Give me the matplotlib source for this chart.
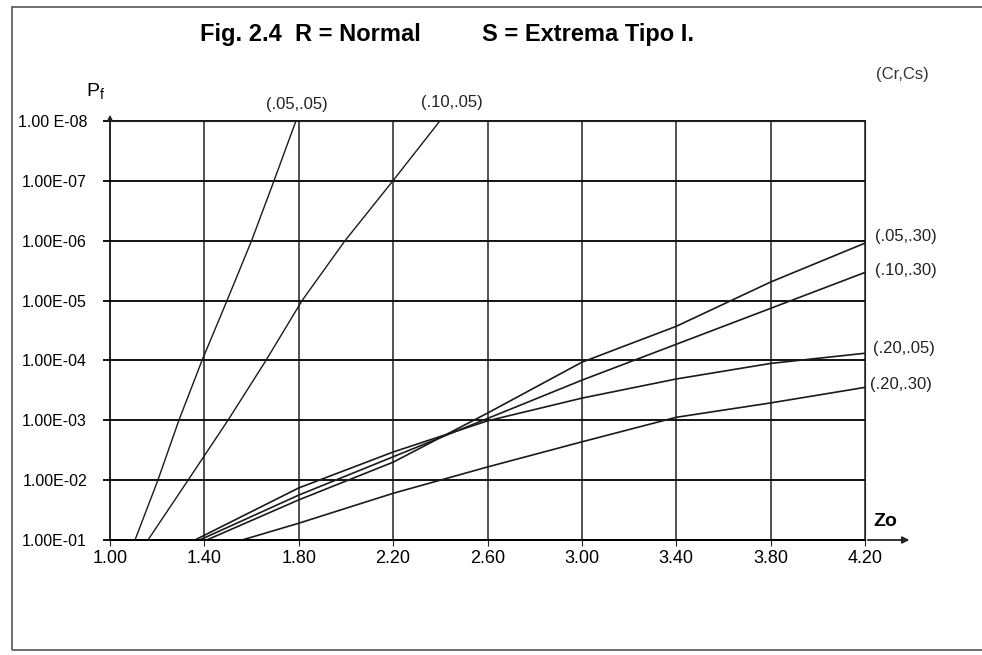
import matplotlib
matplotlib.use('Agg')
import matplotlib.pyplot as plt
from matplotlib.patches import Rectangle

plt.rcParams['font.family'] = ['Liberation Sans', 'DejaVu Sans']

# eje y: decadas de Pf (1 -> 1.00E-01 ... 8 -> 1.00E-08)
y_ticks = [1, 2, 3, 4, 5, 6, 7, 8]
y_labels = ['1.00E-01', '1.00E-02', '1.00E-03', '1.00E-04',
            '1.00E-05', '1.00E-06', '1.00E-07', '1.00 E-08']
x_ticks = [1.00, 1.40, 1.80, 2.20, 2.60, 3.00, 3.40, 3.80, 4.20]

# curvas empinadas (x para cada decada)
d_steep = [1, 2, 3, 4, 5, 6, 7, 8]
zo_05_05 = [1.106, 1.203, 1.292, 1.390, 1.496, 1.600, 1.695, 1.788]
zo_10_05 = [1.161, 1.331, 1.500, 1.661, 1.814, 1.996, 2.199, 2.398]

# curvas bajas (decadas en cada Zo)
zo_05_30 = [1.41, 1.80, 2.20, 2.60, 3.00, 3.40, 3.80, 4.20]
d_05_30 = [1.0, 1.67, 2.30, 3.12, 3.97, 4.57, 5.31, 5.96]
zo_10_30 = [1.38, 1.80, 2.20, 2.60, 3.00, 3.40, 3.80, 4.20]
d_10_30 = [1.0, 1.75, 2.39, 3.03, 3.67, 4.27, 4.87, 5.47]
zo_20_05 = [1.36, 1.80, 2.20, 2.60, 3.00, 3.40, 3.80, 4.20]
d_20_05 = [1.0, 1.87, 2.47, 2.99, 3.37, 3.69, 3.95, 4.12]
zo_20_30 = [1.56, 1.80, 2.20, 2.60, 3.00, 3.40, 3.80, 4.20]
d_20_30 = [1.0, 1.28, 1.78, 2.22, 2.64, 3.05, 3.29, 3.55]

fig = plt.figure(figsize=(9.82, 6.55), dpi=100)
fig.patches.append(Rectangle((12/982, 1-650/655), 975/982, 643/655, transform=fig.transFigure,
                             fill=False, edgecolor='#555555', lw=1.2))

ax = fig.add_axes([110/982, 1-540/655, 755/982, 419/655])
ax.set_xlim(1.0, 4.2)
ax.set_ylim(1, 8)

for v in x_ticks[1:]:
    ax.axvline(v, color='#222222', lw=1.1)
for v in y_ticks:
    ax.plot([0.975, 4.2], [v, v], color='#111111', lw=1.4, clip_on=False)

lc = '#1a1a1a'
ax.plot(zo_05_05, d_steep, color=lc, lw=1.0)
ax.plot(zo_10_05, d_steep, color=lc, lw=1.0)
ax.plot(zo_05_30, d_05_30, color=lc, lw=1.2)
ax.plot(zo_10_30, d_10_30, color=lc, lw=1.2)
ax.plot(zo_20_05, d_20_05, color=lc, lw=1.2)
ax.plot(zo_20_30, d_20_30, color=lc, lw=1.2)

for s in ['top', 'right']:
    ax.spines[s].set_color('#222222')
ax.spines['left'].set_linewidth(1.2)
ax.spines['bottom'].set_linewidth(1.4)

ax.set_xticks(x_ticks)
ax.set_xticklabels(['%.2f' % v for v in x_ticks], fontsize=13)
ax.set_yticks(y_ticks)
ax.set_yticklabels(y_labels, fontsize=11.5)
ax.tick_params(axis='x', length=4, color='#222222', pad=3)
ax.tick_params(axis='y', pad=16.5, length=0)

# flechas de los ejes
ax.annotate('', xy=(4.40, 1), xytext=(4.2, 1), xycoords='data',
            arrowprops=dict(arrowstyle='-|>', color='#222222', lw=1.3, mutation_scale=10),
            annotation_clip=False)
ax.annotate('', xy=(1.0, 8.15), xytext=(1.0, 8.0),
            arrowprops=dict(arrowstyle='-|>', color='#222222', lw=1.0, mutation_scale=7),
            annotation_clip=False)

tit = dict(fontsize=17, fontweight='bold', ha='left', va='center')
fig.text(200/982, 1-35/655, 'Fig. 2.4  R = Normal', **tit)
fig.text(482/982, 1-35/655, 'S = Extrema Tipo I.', **tit)
fig.text(86/982, 1-92/655, r'P$_\mathregular{f}$', fontsize=14, ha='left', va='center')
fig.text(873/982, 1-522/655, 'Zo', fontsize=14, fontweight='bold', ha='left', va='center')
fig.text(902/982, 1-75/655, '(Cr,Cs)', fontsize=12, ha='center', va='center', color='#333333')

lab = dict(fontsize=12, color='#222222', va='center')
fig.text(297/982, 1-105/655, '(.05,.05)', ha='center', **lab)
fig.text(452/982, 1-103/655, '(.10,.05)', ha='center', **lab)
fig.text(875/982, 1-236/655, '(.05,.30)', ha='left', **lab)
fig.text(875/982, 1-271/655, '(.10,.30)', ha='left', **lab)
fig.text(873/982, 1-348/655, '(.20,.05)', ha='left', **lab)
fig.text(870/982, 1-385/655, '(.20,.30)', ha='left', **lab)

fig.savefig('out.png', dpi=100)
